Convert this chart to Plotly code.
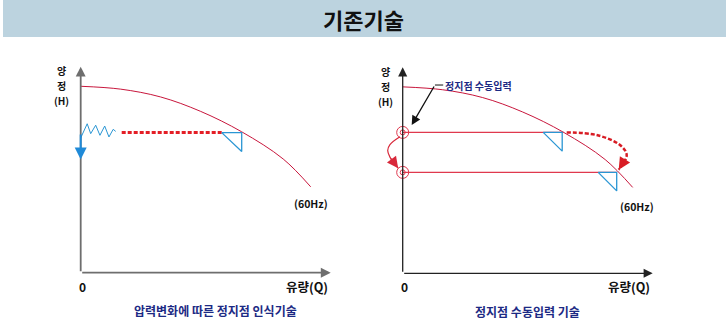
import plotly.graph_objects as go

# pump curve (head H vs flow Q)
q_curve = [0, 16, 32, 48, 64.4, 81, 92]
h_curve = [90.5, 89.1, 85.3, 78.3, 68.4, 55.2, 41.7]

# left panel: pressure fluctuation and detected stop point
zig_q = [0, 2.6, 4.0, 6.0, 7.7, 9.6, 11.3, 13.0, 14.0]
zig_h = [65.4, 72.3, 67.5, 71.6, 66.7, 71.2, 65.9, 69.6, 68.6]
dot_q = [16.4, 56.4]
dot_h = [68, 68]
tri1_q = [56.4, 64.4, 64.4, 56.4]
tri1_h = [68, 68, 58.8, 68]
drop_h = [67.8, 55]

# right panel: manually entered stop points
stop_q = [64.4, 85.6]
stop_h = [68.4, 49.0]
tri2_q = [56.2, 63.8, 63.8, 56.2]
tri2_h = [68.4, 68.4, 59.3, 68.4]
tri3_q = [78.2, 85.6, 85.6, 78.2]
tri3_h = [49, 49, 40, 49]
arc_l_q = [-1.1, -5.1, -6.0, -5.1, -1.8]
arc_l_h = [66.3, 62.5, 59.6, 56.4, 51]
arc_r_q = [65.6, 77.6, 86.9, 89.6, 86.4]
arc_r_h = [68.4, 67.1, 62.3, 57.4, 50.3]

W, H = 726, 321
PX_Q, PX_H = 2.5, 2.06          # pixels per data unit
RED = "#c8163c"
LINE_RED = "#e0384e"
BLUE = "#2a96d4"
NAVY = "#1c2a84"
FONT = "Noto Sans CJK KR"

fig = go.Figure()


def ax_range(origin_x, origin_y, x0, x1):
    xr = [(x0 - origin_x) / PX_Q, (x1 - origin_x) / PX_Q]
    yr = [(origin_y - H) / PX_H, origin_y / PX_H]
    return xr, yr


xr1, yr1 = ax_range(80.7, 272.7, 0, 363)
xr2, yr2 = ax_range(402.7, 273.3, 363, 726)

# ---- left panel
fig.add_trace(go.Scatter(x=q_curve, y=h_curve, mode="lines", line=dict(color=RED, width=1, shape="spline"),
                         xaxis="x", yaxis="y"))
fig.add_trace(go.Scatter(x=zig_q, y=zig_h, mode="lines", line=dict(color=BLUE, width=1),
                         xaxis="x", yaxis="y"))
fig.add_trace(go.Scatter(x=dot_q, y=dot_h, mode="lines", line=dict(color="#e41e26", width=3, dash="4px,2px"),
                         xaxis="x", yaxis="y"))
fig.add_trace(go.Scatter(x=tri1_q, y=tri1_h, mode="lines", line=dict(color=BLUE, width=1.3),
                         xaxis="x", yaxis="y"))

# ---- right panel
fig.add_trace(go.Scatter(x=q_curve, y=h_curve, mode="lines", line=dict(color=RED, width=1, shape="spline"),
                         xaxis="x2", yaxis="y2"))
for sq, sh in zip(stop_q, stop_h):
    fig.add_trace(go.Scatter(x=[0, sq], y=[sh, sh], mode="lines", line=dict(color=LINE_RED, width=1.2),
                             xaxis="x2", yaxis="y2"))
for tq, th in [(tri2_q, tri2_h), (tri3_q, tri3_h)]:
    fig.add_trace(go.Scatter(x=tq, y=th, mode="lines", line=dict(color=BLUE, width=1.3),
                             xaxis="x2", yaxis="y2"))
# double circles at the stop points on the H axis
for size in (12, 5):
    fig.add_trace(go.Scatter(x=[0, 0], y=stop_h, mode="markers",
                             marker=dict(symbol="circle-open", size=size, color=LINE_RED,
                                         line=dict(color=LINE_RED, width=1)),
                             xaxis="x2", yaxis="y2"))
fig.add_trace(go.Scatter(x=arc_l_q, y=arc_l_h, mode="lines", line=dict(color="#d8283a", width=1.2, shape="spline"),
                         xaxis="x2", yaxis="y2"))
fig.add_trace(go.Scatter(x=arc_r_q, y=arc_r_h, mode="lines",
                         line=dict(color="#d81c24", width=2.5, dash="4px,2px", shape="spline"),
                         xaxis="x2", yaxis="y2"))


def arrow(xref, yref, tail, head, color, width, style=2, size=1.0):
    fig.add_annotation(x=head[0], y=head[1], ax=tail[0], ay=tail[1], xref=xref, yref=yref,
                       axref=xref, ayref=yref, text="", showarrow=True, arrowhead=style,
                       arrowsize=size, arrowwidth=width, arrowcolor=color, standoff=0)


# axes with arrow tips
arrow("x", "y", (0, 0), (100, 0), "#6e6e6e", 1.8, 2, 1.1)
arrow("x", "y", (0, 0), (0, 100), "#6e6e6e", 1.8, 2, 1.1)
arrow("x2", "y2", (0, 0), (100, 0), "#222222", 1.3, 2, 1.4)
arrow("x2", "y2", (0, 0), (0, 100), "#222222", 1.3, 2, 1.4)
# blue pressure-drop arrow
arrow("x", "y", (0, drop_h[0]), (0, drop_h[1]), "#1f8ad8", 2, 2, 1.2)
# arc arrow heads
arrow("x2", "y2", (arc_l_q[3], arc_l_h[3]), (arc_l_q[4], arc_l_h[4]), "#d8283a", 1.5, 2, 1.5)
arrow("x2", "y2", (89.3, 56.0), (arc_r_q[4], arc_r_h[4]), "#d81c24", 2, 2, 1.2)
# leader for the callout
fig.add_shape(type="line", x0=12.9, y0=91.4, x1=16.2, y1=91.4, xref="x2", yref="y2",
              line=dict(color="#111111", width=1))
arrow("x2", "y2", (12.9, 91.4), (3.6, 72), "#111111", 1.3, 2, 1.4)


# ---- texts
def label(text, x, y, xref, yref, size=12, color="#111111", xanchor="center", bold=True):
    fig.add_annotation(x=x, y=y, xref=xref, yref=yref, text=text, showarrow=False,
                       xanchor=xanchor, yanchor="middle", borderpad=0,
                       font=dict(family=FONT, size=size, color=color, weight="bold" if bold else "normal"))


for xr, yr, dx in [("x", "y", -7.5), ("x2", "y2", -6.7)]:
    label("양", dx, 98.0, xr, yr, 10)
    label("정", dx, 90.7, xr, yr, 10)
    label("(H)", dx, 83.4, xr, yr, 10)
    label("0", 0.8, -6.6, xr, yr, 12)
    label("유량(Q)", 99.5, -6.6, xr, yr, 12.5, xanchor="right")

label("(60Hz)", 92.1, 33.8, "x", "y", 10.5)
label("(60Hz)", 93.7, 32.2, "x2", "y2", 10.5)
label("정지점 수동입력", 16.6, 91.4, "x2", "y2", 10, NAVY, xanchor="left")

label("압력변화에 따른 정지점 인식기술", 215 / W, 1 - 310 / H, "paper", "paper", 12, NAVY)
label("정지점 수동입력 기술", 527 / W, 1 - 311 / H, "paper", "paper", 12, NAVY)

# header band
fig.add_shape(type="rect", xref="paper", yref="paper", x0=3 / W, x1=1, y0=1 - 37 / H, y1=1,
              fillcolor="#bcd3df", line=dict(width=0), layer="below")
label("기존기술", 0.5, 1 - 19 / H, "paper", "paper", 22, "#111111")

fig.update_layout(
    width=W, height=H, margin=dict(l=0, r=0, t=0, b=0),
    paper_bgcolor="white", plot_bgcolor="white", showlegend=False,
    xaxis=dict(domain=[0, 0.5], range=xr1, visible=False),
    yaxis=dict(domain=[0, 1], range=yr1, visible=False),
    xaxis2=dict(domain=[0.5, 1], range=xr2, visible=False, anchor="y2"),
    yaxis2=dict(domain=[0, 1], range=yr2, visible=False, anchor="x2"),
)

# page body has a default 8px margin; drop it so the figure sits at the window corner
fig.write_html("out.html", config={"displayModeBar": False},
               post_script="document.body.style.margin='0px';")
